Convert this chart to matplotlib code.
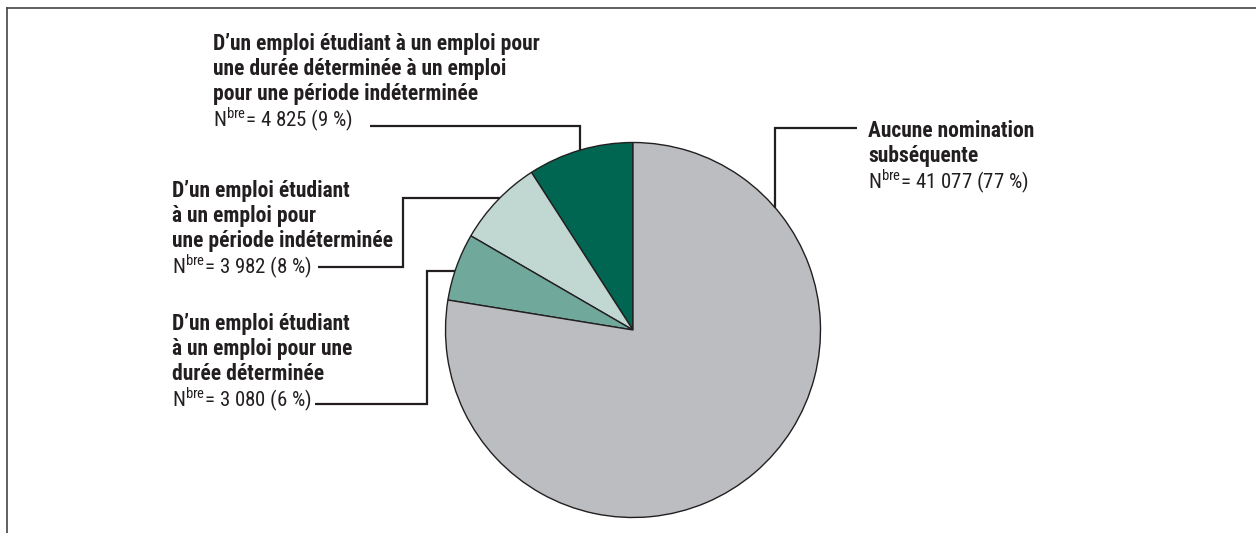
import matplotlib
matplotlib.use('Agg')
import matplotlib.pyplot as plt
from matplotlib import font_manager
from matplotlib.lines import Line2D

# Data
labels = [
    "D’un emploi étudiant à un emploi pour\nune durée déterminée à un emploi\npour une période indéterminée",
    "D’un emploi étudiant\nà un emploi pour\nune période indéterminée",
    "D’un emploi étudiant\nà un emploi pour une\ndurée déterminée",
    "Aucune nomination\nsubséquente",
]
counts = [4825, 3982, 3080, 41077]
pcts = [9, 8, 6, 77]
colors = ['#006651', '#c1d8d2', '#70a89c', '#bcbdc1']

# pick a condensed face if there is one
available = {f.name for f in font_manager.fontManager.ttflist}
family = 'DejaVu Sans'
for cand in ['Liberation Sans Narrow', 'DejaVu Sans Condensed', 'Roboto Condensed', 'Liberation Sans']:
    if cand in available:
        family = cand
        break
plt.rcParams['font.family'] = [family, 'DejaVu Sans']
plt.rcParams['mathtext.fontset'] = 'custom'
plt.rcParams['mathtext.rm'] = family

W, H = 1256, 533
ink = '#231f20'

fig = plt.figure(figsize=(W / 100, H / 100), dpi=100)
ax = fig.add_axes([0, 0, 1, 1])

def py(y):
    return H - y

ax.pie(counts, colors=colors, startangle=90, counterclock=True,
       center=(633, py(330)), radius=187.5,
       wedgeprops=dict(edgecolor=ink, linewidth=1.0))
ax.set_xlim(0, W)
ax.set_ylim(0, H)
ax.set_aspect('equal')
ax.axis('off')

# label layout: x, first baseline (px from top), leader line points
layout = [
    (213, 50, [(370, 126), (580, 126), (580, 150)]),
    (172, 197, [(318, 267), (403, 267), (403, 198), (500, 198)]),
    (172, 330, [(315, 404), (427, 404), (427, 271), (455, 271)]),
    (868, 137, [(857, 128), (775, 128), (775, 208)]),
]

fs_bold = 15.5
fs_reg = 15
for (x, y0, pts), lab, n, p in zip(layout, labels, counts, pcts):
    lines = lab.split('\n')
    for i, line in enumerate(lines):
        ax.text(x, py(y0 + 25 * i), line, fontsize=fs_bold, fontweight='bold',
                color=ink, ha='left', va='baseline')
    num = f"{n:,}".replace(',', ' ')
    ax.text(x, py(y0 + 25 * (len(lines) - 1) + 27),
            r"N$^{\mathrm{bre}}$= " + f"{num} ({p} %)",
            fontsize=fs_reg, color=ink, ha='left', va='baseline')
    xs = [a for a, b in pts]
    ys = [py(b) for a, b in pts]
    ax.plot(xs, ys, color=ink, linewidth=1.6, solid_capstyle='butt',
            solid_joinstyle='miter')

# frame: top and left rules
fig.add_artist(Line2D([7 / W, 1], [1 - 8 / H, 1 - 8 / H], color='#444444', linewidth=1.2))
fig.add_artist(Line2D([7 / W, 7 / W], [0, 1 - 8 / H], color='#444444', linewidth=1.2))

fig.savefig('out.png', dpi=100)
